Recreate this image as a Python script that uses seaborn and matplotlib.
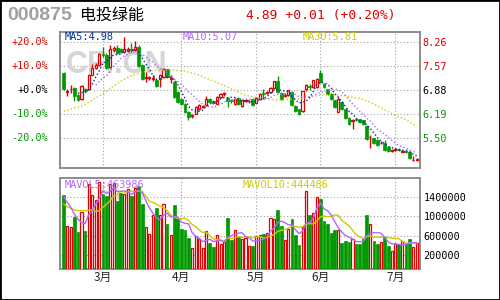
import numpy as np
import pandas as pd
import matplotlib
matplotlib.use("Agg")
import matplotlib.pyplot as plt
import matplotlib.transforms as mtransforms
from matplotlib.patches import Rectangle
import seaborn as sns

sns.set_style("white")
plt.rcParams['font.family'] = ['DejaVu Sans', 'Noto Sans CJK SC']

# ---------------- data ----------------
opens = [7.38, 6.82, 6.90, 6.94, 6.73, 6.63, 6.90, 6.90, 7.32, 7.50,
         7.59, 7.92, 7.90, 7.55, 8.02, 8.10, 8.05, 7.97, 8.00, 8.06,
         8.02, 8.12, 7.59, 7.22, 7.22, 7.20, 7.16, 7.20, 7.25, 7.47,
         7.20, 7.12, 6.82, 6.63, 6.49, 6.25, 6.14, 6.20, 6.32, 6.40,
         6.44, 6.63, 6.55, 6.49, 6.68, 6.77, 6.65, 6.59, 6.49, 6.65,
         6.42, 6.57, 6.55, 6.63, 6.52, 6.63, 6.78, 6.80, 6.82, 6.94,
         7.13, 6.79, 6.72, 6.73, 6.82, 6.42, 6.32, 6.27, 6.90, 6.99,
         6.97, 6.97, 7.38, 7.06, 6.90, 6.77, 6.58, 6.26, 6.53, 6.32,
         6.08, 6.00, 6.06, 6.04, 6.01, 5.85, 5.52, 5.49, 5.44, 5.35,
         5.35, 5.25, 5.13, 5.15, 5.18, 5.11, 5.13, 5.11, 4.86, 4.87]
closes = [6.90, 6.84, 6.92, 6.70, 6.58, 6.99, 6.84, 7.32, 7.51, 7.61,
          7.92, 7.90, 7.51, 8.05, 8.08, 7.95, 7.98, 8.05, 8.07, 8.02,
          8.12, 7.57, 7.21, 7.24, 7.25, 7.23, 6.99, 7.30, 7.47, 7.25,
          7.22, 6.69, 6.54, 6.49, 6.25, 6.10, 6.16, 6.39, 6.44, 6.42,
          6.63, 6.53, 6.52, 6.68, 6.77, 6.79, 6.55, 6.57, 6.63, 6.47,
          6.58, 6.59, 6.57, 6.44, 6.65, 6.77, 6.76, 6.83, 6.94, 7.13,
          6.82, 6.63, 6.74, 6.87, 6.46, 6.27, 6.20, 6.84, 7.03, 6.97,
          7.16, 7.21, 7.11, 6.97, 6.77, 6.63, 6.39, 6.62, 6.34, 6.08,
          5.91, 6.02, 6.01, 5.96, 5.91, 5.46, 5.54, 5.35, 5.30, 5.37,
          5.16, 5.14, 5.15, 5.17, 5.16, 5.13, 5.10, 4.92, 4.88, 4.89]
highs = [7.40, 6.92, 7.03, 6.96, 6.76, 7.02, 6.93, 7.33, 7.63, 7.66,
         7.95, 8.12, 7.93, 8.17, 8.14, 8.17, 8.10, 8.40, 8.12, 8.22,
         8.30, 8.17, 7.62, 7.40, 7.28, 7.30, 7.20, 7.35, 7.50, 7.49,
         7.30, 7.15, 6.85, 6.66, 6.52, 6.28, 6.20, 6.42, 6.47, 6.46,
         6.71, 6.66, 6.58, 6.70, 6.80, 6.82, 6.68, 6.63, 6.66, 6.67,
         6.60, 6.62, 6.60, 6.66, 6.67, 6.79, 6.92, 6.86, 6.96, 7.15,
         7.28, 6.81, 6.78, 6.89, 6.85, 6.44, 6.34, 6.86, 7.05, 7.06,
         7.18, 7.23, 7.45, 7.08, 6.92, 6.79, 6.60, 6.68, 6.55, 6.34,
         6.10, 6.05, 6.08, 6.06, 6.03, 5.87, 5.58, 5.51, 5.46, 5.40,
         5.44, 5.27, 5.18, 5.21, 5.21, 5.16, 5.15, 5.13, 4.97, 4.92]
lows = [6.88, 6.72, 6.78, 6.55, 6.55, 6.60, 6.82, 6.88, 7.30, 7.47,
        7.57, 7.83, 7.48, 7.50, 7.96, 7.91, 7.94, 7.94, 7.96, 7.98,
        8.00, 7.55, 7.18, 7.11, 7.17, 7.14, 6.96, 6.97, 7.22, 7.22,
        7.09, 6.66, 6.50, 6.45, 6.22, 6.01, 6.08, 6.18, 6.30, 6.37,
        6.42, 6.50, 6.48, 6.47, 6.65, 6.70, 6.39, 6.52, 6.46, 6.44,
        6.40, 6.54, 6.52, 6.41, 6.50, 6.61, 6.63, 6.77, 6.80, 6.92,
        6.80, 6.60, 6.68, 6.71, 6.43, 6.24, 6.17, 6.25, 6.84, 6.87,
        6.95, 6.95, 7.08, 6.94, 6.74, 6.60, 6.36, 6.24, 6.31, 6.05,
        5.88, 5.77, 5.98, 5.93, 5.88, 5.43, 5.20, 5.32, 5.27, 5.33,
        5.13, 5.11, 5.11, 5.13, 5.13, 5.09, 5.07, 4.89, 4.83, 4.85]
volumes = [1448000, 806000, 779000, 999000, 688000, 1100000, 703000, 1675000, 1448000, 1344000,
           1702000, 1468000, 1413000, 1675000, 1690000, 1323000, 1482000, 1468000, 1565000, 1427000,
           1586000, 1634000, 1261000, 779000, 641000, 1034000, 1172000, 1034000, 1261000, 848000,
           620000, 1240000, 970000, 748000, 723000, 558000, 350000, 600000, 540000, 350000,
           700000, 461000, 370000, 615000, 440000, 478000, 972000, 517000, 723000, 585000,
           540000, 550000, 400000, 392000, 599000, 613000, 634000, 655000, 978000, 944000,
           1137000, 806000, 516000, 737000, 958000, 613000, 406000, 792000, 1530000, 1027000,
           1082000, 1406000, 1358000, 910000, 841000, 655000, 717000, 723000, 461000, 496000,
           475000, 544000, 441000, 441000, 530000, 1027000, 841000, 496000, 441000, 475000,
           585000, 392000, 289000, 430000, 429000, 500000, 450000, 530000, 380000, 460000]
# moving-average values before enough history is inside the window
ma30_head = [6.27, 6.30, 6.33, 6.36, 6.39, 6.42, 6.47, 6.53, 6.59, 6.65,
             6.71, 6.77, 6.84, 6.92, 7.00, 7.06, 7.13, 7.19, 7.24, 7.29,
             7.33, 7.36, 7.39, 7.41, 7.43, 7.44, 7.45, 7.45, 7.45]
mavol5_head = [1413000, 1290000, 1186000, 1048000]
mavol10_head = [1255000, 1206000, 1165000, 1137000, 1120000, 1124000, 1117000, 1128000, 1140000]

month_labels = ["3月", "4月", "5月", "6月", "7月"]
month_pos = [11, 33, 54, 72, 93]
price_ticks = [8.26, 7.57, 6.88, 6.19, 5.50]
price_labels = ["8.26", "7.57", "6.88", "6.19", "5.50"]
pct_labels = ["+20.0%", "+10.0%", "+0.0%", "-10.0%", "-20.0%"]
vol_ticks = [1400000, 1000000, 600000, 200000]
vol_labels = ["1400000", "1000000", "600000", "200000"]
title_code = "000875"
title_name = "电投绿能"
title_quote = "4.89 +0.01 (+0.20%)"
ma_texts = ["MA5:4.98", "MA10:5.07", "MA30:5.81"]
mavol_texts = ["MAVOL5:463986", "MAVOL10:444486"]

# ---------------- derived ----------------
n = len(closes)
df = pd.DataFrame({"idx": np.arange(n), "open": opens, "close": closes,
                   "high": highs, "low": lows, "vol": volumes})
df["ma5"] = df["close"].rolling(5).mean()
df["ma10"] = df["close"].rolling(10).mean()
ma30 = df["close"].rolling(30).mean().to_numpy()
ma30[:len(ma30_head)] = ma30_head
df["ma30"] = ma30
mv5 = df["vol"].rolling(5).mean().to_numpy()
mv5[:len(mavol5_head)] = mavol5_head
df["mv5"] = mv5
mv10 = df["vol"].rolling(10).mean().to_numpy()
mv10[:len(mavol10_head)] = mavol10_head
df["mv10"] = mv10

RED = "#E00000"
GREEN = "#009900"
C_MA5 = "#003399"
C_MA10 = "#B266FF"
C_MA30 = "#CCCC00"
GRID = "#A0A0A0"
SPINE = "#8C8C8C"
MONO = "DejaVu Sans Mono"

fig = plt.figure(figsize=(5, 3), dpi=100)
fig.patch.set_facecolor("white")
ax1 = fig.add_axes([0.12, 0.44, 0.72, 0.455])
ax2 = fig.add_axes([0.12, 0.1033, 0.72, 0.3033])

xlim = (-1.04, 99.93)
for ax in (ax1, ax2):
    ax.set_xlim(*xlim)
    ax.set_facecolor("white")
    for s in ax.spines.values():
        s.set_color(SPINE)
        s.set_linewidth(1.4)
    ax.set_xticks(month_pos)
    ax.grid(True, color=GRID, linestyle=(0, (1, 2)), linewidth=0.8)
    ax.set_axisbelow(True)
    ax.tick_params(length=0)

# ---------------- price panel ----------------
ax1.set_ylim(4.6375, 8.562)
ax1.text(0.158, 0.755, "CFi.CN", transform=ax1.transAxes, fontsize=22,
         fontweight="bold", color="#D6D6D6", ha="center", va="center",
         family="Liberation Sans", zorder=0.6)

up = df["close"] >= df["open"]
cols = np.where(up, RED, GREEN)
ax1.vlines(df["idx"], df["low"], df["high"], colors=cols, linewidth=1.0, zorder=2)
body_bot = np.minimum(df["open"], df["close"])
body_h = np.maximum(np.abs(df["close"] - df["open"]), 0.012)
ax1.bar(df["idx"][up], body_h[up], bottom=body_bot[up], width=0.62,
        facecolor="white", edgecolor=RED, linewidth=0.9, zorder=3)
ax1.bar(df["idx"][~up], body_h[~up], bottom=body_bot[~up], width=0.8,
        facecolor=GREEN, edgecolor=GREEN, linewidth=0.5, zorder=3)

for col, c in (("ma30", C_MA30), ("ma10", C_MA10), ("ma5", C_MA5)):
    sns.lineplot(data=df, x="idx", y=col, ax=ax1, color=c, linewidth=1.0,
                 linestyle=(0, (1, 1.6)), zorder=4)
ax1.set_xlabel("")
ax1.set_ylabel("")
ax1.set_xticklabels([])
ax1.yaxis.tick_right()
ax1.set_yticks(price_ticks)
ax1.set_yticklabels(price_labels, family=MONO, fontsize=7.3)
tick_cols = [RED, RED, "black", GREEN, GREEN]
for lab, c in zip(ax1.get_yticklabels(), tick_cols):
    lab.set_color(c)
ax1.tick_params(axis="y", pad=1.5)
trans = mtransforms.blended_transform_factory(ax1.transAxes, ax1.transData)
for v, t, c in zip(price_ticks, pct_labels, tick_cols):
    ax1.text(-0.033, v, t, transform=trans, ha="right", va="center",
             color=c, family=MONO, fontsize=7.3)

# ---------------- volume panel ----------------
vol_floor = -83000
ax2.set_ylim(vol_floor, 1793000)
ax2.text(0.17, 0.80, "CFi.CN", transform=ax2.transAxes, fontsize=10,
         fontweight="bold", color="#DADADA", ha="center", va="center",
         family="Liberation Sans", zorder=0.6)
vh = df["vol"] - vol_floor
ax2.bar(df["idx"][up], vh[up], bottom=vol_floor, width=0.6,
        facecolor="white", edgecolor=RED, linewidth=0.9, zorder=3)
ax2.bar(df["idx"][~up], vh[~up], bottom=vol_floor, width=0.78,
        facecolor=GREEN, edgecolor=GREEN, linewidth=0.5, zorder=3)
sns.lineplot(data=df, x="idx", y="mv10", ax=ax2, color=C_MA30, linewidth=1.0, zorder=4)
sns.lineplot(data=df, x="idx", y="mv5", ax=ax2, color=C_MA10, linewidth=1.0, zorder=4)
ax2.set_xlabel("")
ax2.set_ylabel("")
ax2.yaxis.tick_right()
ax2.set_yticks(vol_ticks)
ax2.set_yticklabels(vol_labels, family=MONO, fontsize=7.3, color="black")
ax2.tick_params(axis="y", pad=2.5)
ax2.set_xticklabels(month_labels, fontsize=8.5, family=["Noto Sans CJK SC"])
ax2.tick_params(axis="x", pad=1.5)

# ---------------- texts ----------------
def ft(xp, yp, s, **kw):
    fig.text(xp / 500, 1 - yp / 300, s, va="center", ha="left", **kw)

ft(7, 15, title_code, color="#A0A0A0", fontsize=14, fontweight="bold",
   family="Liberation Sans")
ft(80, 15, title_name, color="black", fontsize=11.5, family=["Noto Sans CJK SC"])
ft(246, 15, title_quote, color=RED, fontsize=9.4, family=MONO)
for xp, s, c in zip([65, 183, 303], ma_texts, [C_MA5, C_MA10, C_MA30]):
    ft(xp, 37.5, s, color=c, fontsize=7.4, family=MONO, zorder=6)
for xp, s, c in zip([65, 243], mavol_texts, [C_MA10, C_MA30]):
    ft(xp, 184.5, s, color=c, fontsize=7.4, family=MONO, zorder=6)

fig.patches.append(Rectangle((0, 0), 1, 1, transform=fig.transFigure, fill=False,
                             edgecolor="black", linewidth=2.0))

fig.savefig("out.png", dpi=100, facecolor="white")
